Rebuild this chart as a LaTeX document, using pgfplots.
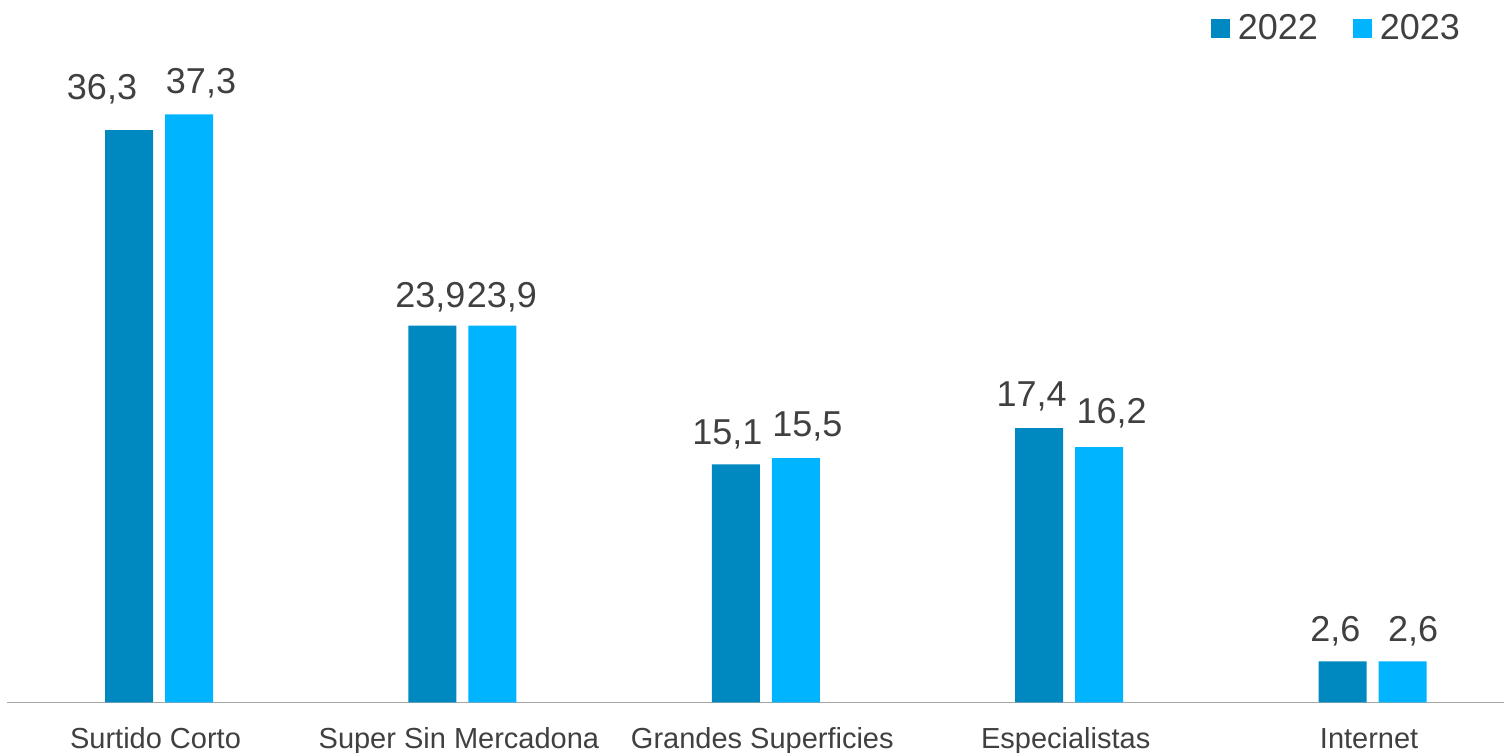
\documentclass[border=0pt]{standalone}
\usepackage{pgfplots}
\usepackage{pgfplotstable}
\pgfplotsset{compat=1.18}
\usepackage{fontspec}
\setmainfont{Liberation Sans}
\definecolor{cA}{HTML}{0088C0}
\definecolor{cB}{HTML}{00B4FF}
\definecolor{txt}{HTML}{404040}
\definecolor{axl}{HTML}{A6A6A6}
\pgfplotstableread{
x y dx dy
0 36.3 -13.5 5.5
1 23.9 -1 -1
2 15.1 -4.25 0
3 17.4 -3.75 1
4 2.6 -3.65 0
}\tA
\pgfplotstableread{
x y dx dy
0 37.3 6 0.25
1 23.9 4.75 -1
2 15.5 5.75 1
3 16.2 6.25 2
4 2.6 5.25 0
}\tB
\begin{document}
\begin{tikzpicture}
\useasboundingbox (0,0) rectangle (752pt,376.5pt);
\begin{axis}[
  scale only axis, width=748.5pt, height=315.4pt,
  at={(3.5pt,25.25pt)}, anchor=south west,
  xmin=-0.501, xmax=4.4331, ymin=0, ymax=40,
  hide y axis,
  axis x line*=bottom,
  x axis line style={draw=axl, line width=0.75pt},
  xtick style={draw=none},
  ybar, bar width=24pt,
  xtick={0,1,2,3,4},
  xticklabels={Surtido Corto, Super Sin Mercadona, Grandes Superficies, Especialistas, Internet},
  xticklabel style={font=\fontsize{14.5pt}{17pt}\selectfont, text=txt, anchor=base, yshift=-18.6pt, xshift=-1.75pt, inner sep=0pt},
  nodes near coords={\pgfmathprintnumber[assume math mode=true,use comma,fixed,fixed zerofill,precision=1]{\pgfplotspointmeta}},
  every node near coord/.append style={font=\fontsize{18pt}{21pt}\selectfont, text=txt, anchor=base, inner sep=0pt, xshift=\dx pt, yshift={10pt+\dy pt}},
  legend image code/.code={\fill[#1] (0pt,-4.75pt) rectangle (9.5pt,4.75pt);},
  legend style={at={(axis description cs:0.9706,1.0915)}, anchor=north east, draw=none, fill=none, inner sep=0pt, outer sep=0pt, legend columns=2, font=\fontsize{18pt}{21pt}\selectfont, text=txt, nodes={inner sep=0pt}, /tikz/every odd column/.append style={column sep=4pt}, /tikz/every even column/.append style={column sep=17.5pt}},
  legend cell align=left,
]
\addplot[fill=cA, draw=none, bar shift=-15pt, visualization depends on={\thisrow{dx} \as \dx}, visualization depends on={\thisrow{dy} \as \dy}] table[x=x,y=y] {\tA};
\addplot[fill=cB, draw=none, bar shift=15pt, visualization depends on={\thisrow{dx} \as \dx}, visualization depends on={\thisrow{dy} \as \dy}] table[x=x,y=y] {\tB};
\legend{2022,2023}
\end{axis}
\end{tikzpicture}
\end{document}
